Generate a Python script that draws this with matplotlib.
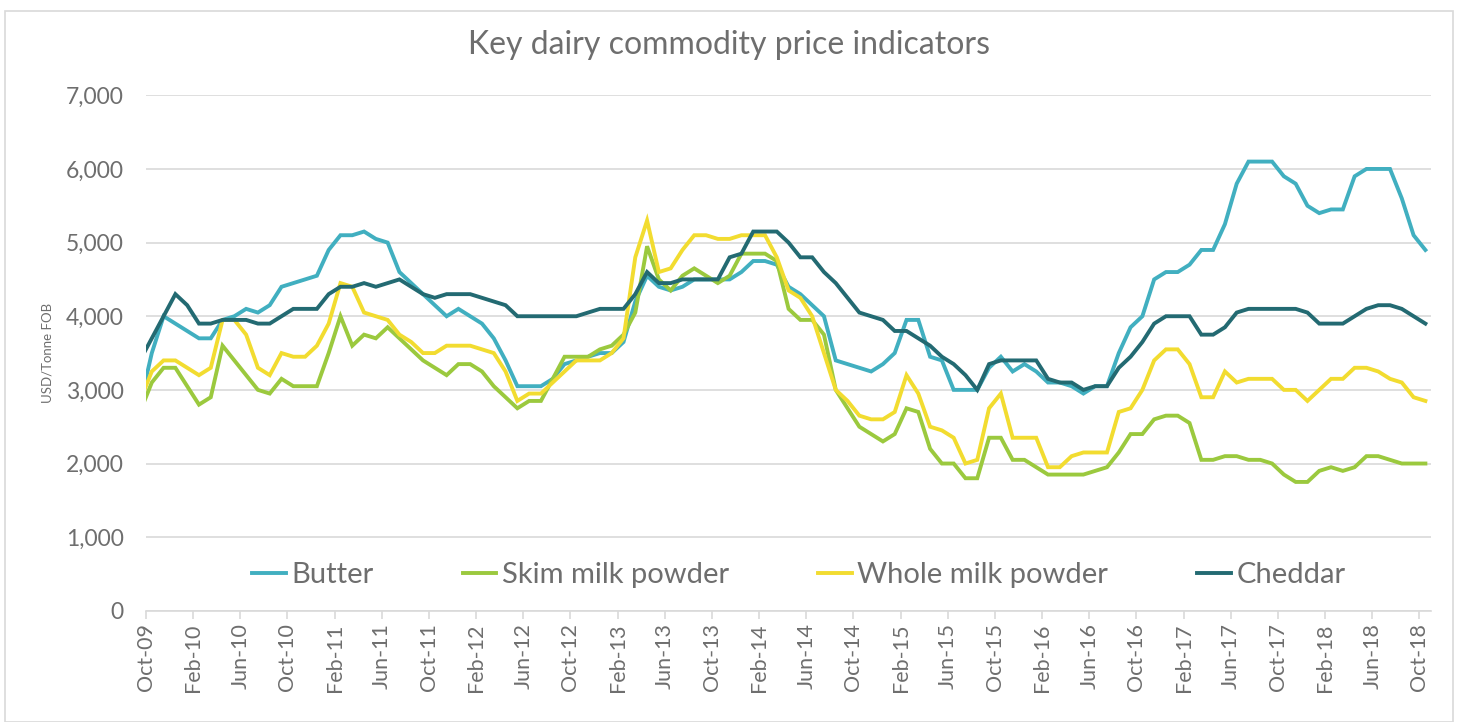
"""
Key dairy commodity price indicators (USD/Tonne FOB), monthly, Sep-09 to Oct-18.
"""

import matplotlib

matplotlib.use("Agg")
import matplotlib.pyplot as plt
import numpy as np
import pandas as pd
from matplotlib.patches import Rectangle

plt.rcParams["font.family"] = ["Lato", "DejaVu Sans"]

# months of the series (first point falls just before the axis start)
months = pd.date_range("2009-09-01", "2018-10-01", freq="MS")

butter = [
    2800, 3500, 4000, 3900, 3800, 3700, 3700, 3950, 4000, 4100, 4050, 4150, 4400, 4450, 4500, 4550, 4900, 5100, 5100,
    5150, 5050, 5000, 4600, 4450, 4300, 4150, 4000, 4100, 4000, 3900, 3700, 3400, 3050, 3050, 3050, 3150, 3350,
    3400, 3450, 3500, 3500, 3650, 4200, 4550, 4400, 4350, 4400, 4500, 4500, 4500, 4500, 4600, 4750, 4750, 4700, 4400,
    4300, 4150, 4000, 3400, 3350, 3300, 3250, 3350, 3500, 3950, 3950, 3450, 3400, 3000, 3000, 3000, 3300,
    3450, 3250, 3350, 3250, 3100, 3100, 3050, 2950, 3050, 3050, 3500, 3850, 4000, 4500, 4600, 4600, 4700, 4900, 4900,
    5250, 5800, 6100, 6100, 6100, 5900, 5800, 5500, 5400, 5450, 5450, 5900, 6000, 6000, 6000, 5600, 5100, 4900,
]
skim_milk_powder = [
    2700, 3100, 3300, 3300, 3050, 2800, 2900, 3600, 3400, 3200, 3000, 2950, 3150, 3050, 3050, 3050, 3500, 4000, 3600,
    3750, 3700, 3850, 3700, 3550, 3400, 3300, 3200, 3350, 3350, 3250, 3050, 2900, 2750, 2850, 2850, 3150, 3450,
    3450, 3450, 3550, 3600, 3750, 4050, 4950, 4500, 4350, 4550, 4650, 4550, 4450, 4550, 4850, 4850, 4850, 4750, 4100,
    3950, 3950, 3750, 3000, 2750, 2500, 2400, 2300, 2400, 2750, 2700, 2200, 2000, 2000, 1800, 1800, 2350,
    2350, 2050, 2050, 1950, 1850, 1850, 1850, 1850, 1900, 1950, 2150, 2400, 2400, 2600, 2650, 2650, 2550, 2050, 2050,
    2100, 2100, 2050, 2050, 2000, 1850, 1750, 1750, 1900, 1950, 1900, 1950, 2100, 2100, 2050, 2000, 2000, 2000,
]
whole_milk_powder = [
    2850, 3250, 3400, 3400, 3300, 3200, 3300, 3950, 3950, 3750, 3300, 3200, 3500, 3450, 3450, 3600, 3900, 4450, 4400,
    4050, 4000, 3950, 3750, 3650, 3500, 3500, 3600, 3600, 3600, 3550, 3500, 3250, 2850, 2950, 2950, 3100, 3250,
    3400, 3400, 3400, 3500, 3700, 4800, 5300, 4600, 4650, 4900, 5100, 5100, 5050, 5050, 5100, 5100, 5100, 4800, 4350,
    4250, 4000, 3500, 3000, 2850, 2650, 2600, 2600, 2700, 3200, 2950, 2500, 2450, 2350, 2000, 2050, 2750,
    2950, 2350, 2350, 2350, 1950, 1950, 2100, 2150, 2150, 2150, 2700, 2750, 3000, 3400, 3550, 3550, 3350, 2900, 2900,
    3250, 3100, 3150, 3150, 3150, 3000, 3000, 2850, 3000, 3150, 3150, 3300, 3300, 3250, 3150, 3100, 2900, 2850,
]
cheddar = [
    3400, 3700, 4000, 4300, 4150, 3900, 3900, 3950, 3950, 3950, 3900, 3900, 4000, 4100, 4100, 4100, 4300, 4400, 4400,
    4450, 4400, 4450, 4500, 4400, 4300, 4250, 4300, 4300, 4300, 4250, 4200, 4150, 4000, 4000, 4000, 4000, 4000,
    4000, 4050, 4100, 4100, 4100, 4300, 4600, 4450, 4450, 4500, 4500, 4500, 4500, 4800, 4850, 5150, 5150, 5150, 5000,
    4800, 4800, 4600, 4450, 4250, 4050, 4000, 3950, 3800, 3800, 3700, 3600, 3450, 3350, 3200, 3000, 3350,
    3400, 3400, 3400, 3400, 3150, 3100, 3100, 3000, 3050, 3050, 3300, 3450, 3650, 3900, 4000, 4000, 4000, 3750, 3750,
    3850, 4050, 4100, 4100, 4100, 4100, 4100, 4050, 3900, 3900, 3900, 4000, 4100, 4150, 4150, 4100, 4000, 3900,
]

tick_labels = [
    "Oct-09", "Feb-10", "Jun-10", "Oct-10", "Feb-11", "Jun-11", "Oct-11", "Feb-12", "Jun-12", "Oct-12",
    "Feb-13", "Jun-13", "Oct-13", "Feb-14", "Jun-14", "Oct-14", "Feb-15", "Jun-15", "Oct-15", "Feb-16",
    "Jun-16", "Oct-16", "Feb-17", "Jun-17", "Oct-17", "Feb-18", "Jun-18", "Oct-18",
]

series = [
    ("Butter", butter, "#41AFC0"),
    ("Skim milk powder", skim_milk_powder, "#9BC93E"),
    ("Whole milk powder", whole_milk_powder, "#F2DC30"),
    ("Cheddar", cheddar, "#236A72"),
]

TEXT_GREY = "#6E6E6E"
GRID_GREY = "#D9D9D9"

# month offset from Oct-09, plotted mid-month
x = (months.year - 2009) * 12 + months.month - 10 + 0.5

fig = plt.figure(figsize=(14.59, 7.22), dpi=100)
fig.patches.append(Rectangle((5 / 1459, 0.0), 1448 / 1459, 1 - 11 / 722, transform=fig.transFigure,
                             fill=False, edgecolor=GRID_GREY, linewidth=1.2))
ax = fig.add_axes([0.1, 0.154, 0.881, 0.714])

for nombre, valores, color in series:
    ax.plot(x, valores, color=color, linewidth=2.8, label=nombre, solid_joinstyle="miter")

ax.set_xlim(0, 109)
ax.set_ylim(0, 7000)
ax.set_yticks(np.arange(0, 7001, 1000))
ax.set_yticklabels([f"{v:,}" for v in range(0, 7001, 1000)])
ax.set_xticks(np.arange(len(tick_labels)) * 4)
ax.set_xticklabels(tick_labels, rotation=90)

ax.grid(axis="y", color=GRID_GREY, linewidth=1.2)
ax.set_axisbelow(True)
for lado in ["top", "right", "left"]:
    ax.spines[lado].set_visible(False)
ax.spines["bottom"].set_color(GRID_GREY)
ax.spines["bottom"].set_linewidth(1.2)

ax.tick_params(axis="y", length=0, pad=16, labelsize=16.5, labelcolor=TEXT_GREY)
ax.tick_params(axis="x", length=6, width=1.2, color=GRID_GREY, pad=3, labelsize=15.5, labelcolor=TEXT_GREY)

ax.set_ylabel("USD/Tonne FOB", fontsize=9.5, color=TEXT_GREY)
ax.yaxis.set_label_coords(-0.072, 0.5)

fig.text(0.5, 1 - 45 / 722, "Key dairy commodity price indicators", ha="center", va="center",
         fontsize=23, color=TEXT_GREY)

leg = ax.legend(loc="center", bbox_to_anchor=(0.508, 0.069), ncol=4, frameon=False, fontsize=21,
                handlelength=1.15, handletextpad=0.2, columnspacing=3.05)
for texto in leg.get_texts():
    texto.set_color(TEXT_GREY)

fig.savefig("out.png", dpi=100)
